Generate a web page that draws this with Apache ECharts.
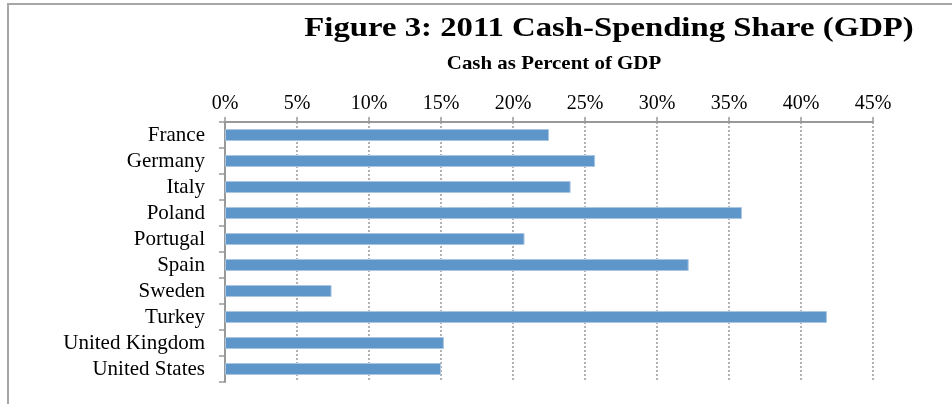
<!DOCTYPE html>
<html><head><meta charset="utf-8">
<script src="https://cdn.jsdelivr.net/npm/echarts@6/dist/echarts.min.js"></script>
<style>html,body{margin:0;padding:0;background:#fff}#c{width:952px;height:404px}</style>
</head><body><div id="c"></div>
<script>
const countries = ['France','Germany','Italy','Poland','Portugal','Spain','Sweden','Turkey','United Kingdom','United States'];
const cashShare = [22.5, 25.7, 24.0, 35.9, 20.8, 32.2, 7.4, 41.8, 15.2, 15.0];
const titleText = 'Figure 3: 2011 Cash-Spending Share (GDP)';
const subtitleText = 'Cash as Percent of GDP';
const serif = '"Liberation Serif","Times New Roman",serif';
const chart = echarts.init(document.getElementById('c'));
chart.setOption({
  animation: false,
  backgroundColor: '#fff',
  graphic: [
    {type:'rect', shape:{x:8,y:4,width:1000,height:500}, style:{fill:'none', stroke:'#a6a6a6', lineWidth:2}},
    {type:'text', x:609, y:15, scaleX:1.17,
     style:{text:titleText, font:'bold 28px ' + serif, fill:'#000', textAlign:'center', textVerticalAlign:'top'}},
    {type:'text', x:554, y:55, scaleX:1.1,
     style:{text:subtitleText, font:'bold 19px ' + serif, fill:'#000', textAlign:'center', textVerticalAlign:'top'}}
  ],
  grid: {left:225, right:79, top:122, height:260, containLabel:false},
  xAxis: {
    type:'value', position:'top', min:0, max:45, interval:5,
    axisLabel:{formatter: v => v + '%', fontFamily: serif, fontSize:20, color:'#000', margin:8},
    axisLine:{show:true, lineStyle:{color:'#999', width:2}},
    axisTick:{show:true, length:5, lineStyle:{color:'#999', width:1.5}},
    splitLine:{show:true, lineStyle:{color:'#999', type:[2,2], width:1.5}}
  },
  yAxis: {
    type:'category', inverse:true, data: countries,
    axisLabel:{interval:0, fontFamily: serif, fontSize:21, color:'#000', margin:20, padding:[4,0,0,0]},
    axisLine:{show:true, lineStyle:{color:'#999', width:2}},
    axisTick:{show:true, interval:0, length:6, lineStyle:{color:'#999', width:1.5}},
    splitLine:{show:false}
  },
  series: [{
    type:'bar', data: cashShare, barWidth: 12,
    itemStyle:{color:'#5f96c9', borderColor:'#a9c5e3', borderWidth:1}
  }]
});
</script></body></html>
